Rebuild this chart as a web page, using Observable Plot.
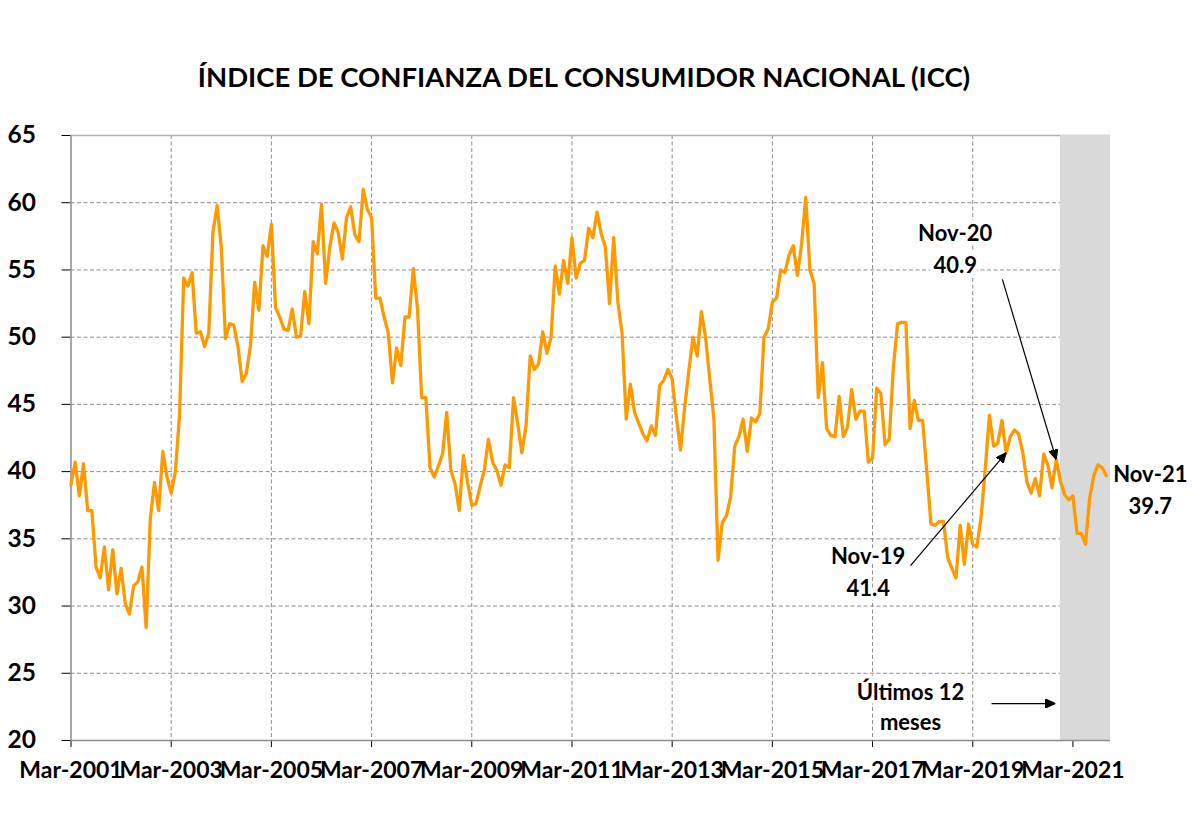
<!DOCTYPE html>
<html lang="es">
<head>
<meta charset="utf-8">
<script src="https://cdn.jsdelivr.net/npm/d3@7"></script>
<script src="https://cdn.jsdelivr.net/npm/@observablehq/plot@0.6"></script>
<style>
  html, body { margin: 0; padding: 0; background: #fff; }
  #chart { width: 1200px; height: 817px; position: relative; overflow: hidden; }
  #chart h1 {
    margin: 0; height: 120px; box-sizing: border-box; padding: 62px 32px 0 0;
    text-align: center; color: #000;
    font: 700 27.5px/30px Lato, "Open Sans", sans-serif;
  }
  #chart svg { display: block; }
  #chart svg g[aria-label^="y-axis"] text { font-size: 24.5px; font-weight: 700; }
  #chart svg g[aria-label^="x-axis"] text { font-size: 23px; font-weight: 700; }
  #chart svg g[aria-label^="x-axis"] line,
  #chart svg g[aria-label^="y-axis"] line { stroke: #8c8c8c; }
</style>
</head>
<body>
<div id="chart"><h1>ÍNDICE DE CONFIANZA DEL CONSUMIDOR NACIONAL (ICC)</h1></div>
<script>
// Índice de Confianza del Consumidor, monthly values from March 2001 to November 2021
const firstMonth = "Mar-2001";
const icc2001 = [39.0, 40.7, 38.2, 40.6, 37.1, 37.1, 32.9, 32.1, 34.4, 31.2]; // Mar–Dec
const icc2002 = [34.2, 30.9, 32.8, 30.2, 29.4, 31.5, 31.8, 32.9, 28.4, 36.5, 39.2, 37.1];
const icc2003 = [41.5, 39.6, 38.4, 40.0, 44.2, 54.4, 53.8, 54.8, 50.3, 50.4, 49.3, 50.3];
const icc2004 = [57.8, 59.8, 56.7, 49.9, 51.0, 50.9, 49.3, 46.7, 47.3, 49.4, 54.1, 52.0];
const icc2005 = [56.8, 56.0, 58.4, 52.2, 51.5, 50.6, 50.5, 52.1, 50.0, 50.1, 53.4, 51.0];
const icc2006 = [57.1, 56.2, 59.9, 54.0, 56.7, 58.5, 57.8, 55.8, 58.9, 59.7, 57.6, 57.1];
const icc2007 = [61.0, 59.5, 58.9, 52.9, 52.9, 51.5, 50.3, 46.6, 49.2, 47.9, 51.5, 51.5];
const icc2008 = [55.1, 52.1, 45.5, 45.5, 40.3, 39.6, 40.4, 41.3, 44.4, 40.1, 39.1, 37.1];
const icc2009 = [41.2, 39.2, 37.5, 37.6, 38.9, 40.1, 42.4, 40.7, 40.1, 39.0, 40.5, 40.3];
const icc2010 = [45.5, 43.6, 41.4, 43.4, 48.6, 47.6, 48.0, 50.4, 48.8, 50.0, 55.3, 53.2];
const icc2011 = [55.7, 54.0, 57.4, 54.4, 55.5, 55.7, 58.1, 57.4, 59.3, 57.7, 56.7, 52.5];
const icc2012 = [57.4, 52.6, 50.3, 43.9, 46.5, 44.4, 43.6, 42.8, 42.3, 43.4, 42.7, 46.4];
const icc2013 = [46.8, 47.6, 46.9, 44.1, 41.6, 44.8, 47.5, 50.0, 48.6, 51.9, 50.0, 46.9];
const icc2014 = [43.9, 33.4, 36.2, 36.7, 38.1, 41.9, 42.6, 43.9, 41.5, 44.0, 43.7, 44.3];
const icc2015 = [50.0, 50.6, 52.6, 52.9, 55.0, 54.8, 56.1, 56.8, 54.6, 56.9, 60.4, 55.0];
const icc2016 = [54.0, 45.5, 48.1, 43.2, 42.7, 42.6, 45.6, 42.6, 43.3, 46.1, 43.9, 44.5];
const icc2017 = [44.5, 40.7, 41.0, 46.2, 45.8, 42.0, 42.4, 47.8, 51.0, 51.1, 51.1, 43.2];
const icc2018 = [45.3, 43.8, 43.8, 40.0, 36.1, 36.0, 36.3, 36.3, 33.6, 32.8, 32.1, 36.0];
const icc2019 = [33.1, 36.1, 34.6, 34.4, 36.6, 40.2, 44.2, 41.9, 42.1, 43.8, 41.4, 42.6];
const icc2020 = [43.1, 42.8, 41.4, 39.2, 38.4, 39.5, 38.2, 41.3, 40.5, 38.8, 40.9, 39.3];
const icc2021 = [38.3, 37.9, 38.2, 35.4, 35.4, 34.6, 38.0, 39.7, 40.5, 40.3, 39.7]; // Jan–Nov

const xTickLabels = ["Mar-2001", "Mar-2003", "Mar-2005", "Mar-2007", "Mar-2009", "Mar-2011",
                     "Mar-2013", "Mar-2015", "Mar-2017", "Mar-2019", "Mar-2021"];
const yTicks = [20, 25, 30, 35, 40, 45, 50, 55, 60, 65];
const highlighted = ["Nov-19", "Nov-20", "Nov-21"];
const lastMonthsLabel = "Últimos 12\nmeses";

const icc = [...icc2001, ...icc2002, ...icc2003, ...icc2004, ...icc2005, ...icc2006, ...icc2007,
             ...icc2008, ...icc2009, ...icc2010, ...icc2011, ...icc2012, ...icc2013, ...icc2014,
             ...icc2015, ...icc2016, ...icc2017, ...icc2018, ...icc2019, ...icc2020, ...icc2021];

const parseMonth = d3.timeParse("%b-%Y");
const shortMonth = d3.timeFormat("%b-%y");
const start = parseMonth(firstMonth);
const n = icc.length;

// one row per month, x is the month offset from the first observation
const series = icc.map((value, i) => ({i, value, month: shortMonth(d3.timeMonth.offset(start, i))}));
const xTicks = xTickLabels.map(s => d3.timeMonth.count(start, parseMonth(s)));
const tickLabelOf = new Map(xTicks.map((t, k) => [t, xTickLabels[k]]));

// shaded window covering the final twelve months
const lastYear = [{from: n - 12, to: n}];

// labelled months and where their call‑outs sit relative to the point
const callouts = series.filter(d => highlighted.includes(d.month))
  .map(d => ({...d, text: `${d.month}\n${d.value.toFixed(1)}`}));
const calloutOffset = {"Nov-19": [-138, 117], "Nov-20": [-101, -213], "Nov-21": [44, 12]};
const arrowTail = {"Nov-19": [201.1, 33.0], "Nov-20": [223.1, 54.3]};
const pointerArrows = callouts.filter(d => arrowTail[d.month])
  .map(d => ({x1: arrowTail[d.month][0], y1: arrowTail[d.month][1], x2: d.i, y2: d.value}));
const windowArrow = [{x1: 220.5, y1: 22.75, x2: lastYear[0].from - 1.2, y2: 22.75}];

// filled triangular arrowhead
function filledHead(color) {
  const m = d3.create("svg:marker")
    .attr("viewBox", "0 -4.5 10 9")
    .attr("markerUnits", "userSpaceOnUse")
    .attr("markerWidth", 10)
    .attr("markerHeight", 9)
    .attr("refX", 10)
    .attr("refY", 0)
    .attr("orient", "auto");
  m.append("path").attr("d", "M0,-4.5L10,0L0,4.5Z").attr("fill", color);
  return m.node();
}

const grey = "#8c8c8c";
const font = "Lato, 'Open Sans', sans-serif";

const chart = Plot.plot({
  width: 1200,
  height: 697,
  marginLeft: 70.5,
  marginRight: 90,
  marginTop: 15,
  marginBottom: 77,
  style: {fontFamily: font, fontWeight: 700, color: "#000", background: "#fff", overflow: "visible"},
  x: {domain: [0, n], ticks: xTicks, tickFormat: t => tickLabelOf.get(t), tickSize: 7, tickPadding: 14, label: null},
  y: {domain: [20, 65], ticks: yTicks, tickSize: 9, tickPadding: 26, label: null},
  marks: [
    Plot.ruleY(yTicks.filter(v => v > 20 && v < 65), {stroke: grey, strokeWidth: 1, strokeDasharray: "4,2.5"}),
    Plot.ruleX(xTicks.filter(t => t > 0), {stroke: grey, strokeWidth: 1, strokeDasharray: "4,2.5"}),
    Plot.ruleY([65], {stroke: "#b0b0b0", strokeWidth: 1.5}),
    Plot.rect(lastYear, {x1: d => d.from, x2: d => d.to, y1: () => 20, y2: () => 65, fill: "#d9d9d9"}),
    Plot.ruleY([20], {stroke: grey, strokeWidth: 1.5}),
    Plot.ruleX([0], {stroke: grey, strokeWidth: 1.5}),
    Plot.line(series, {x: "i", y: "value", stroke: "#ff9900", strokeWidth: 3.3, strokeLinejoin: "round"}),
    Plot.link(pointerArrows, {x1: "x1", y1: "y1", x2: "x2", y2: "y2", stroke: "#000", strokeWidth: 1.2, markerEnd: filledHead}),
    Plot.link(windowArrow, {x1: "x1", y1: "y1", x2: "x2", y2: "y2", stroke: "#000", strokeWidth: 1.2, markerEnd: filledHead}),
    ...callouts.map(d => Plot.text([d], {
      x: "i", y: "value", text: "text",
      dx: calloutOffset[d.month][0], dy: calloutOffset[d.month][1],
      fontSize: 22, fontWeight: 700, fontFamily: font, lineHeight: 1.45, lineAnchor: "middle",
      textAnchor: "middle", fill: "#000", stroke: "#fff", strokeWidth: 8, paintOrder: "stroke"
    })),
    Plot.text(windowArrow, {
      x: "x1", y: "y1", text: () => lastMonthsLabel, dx: -81, dy: 2,
      fontSize: 22, fontWeight: 700, fontFamily: font, lineHeight: 1.36, lineAnchor: "middle",
      textAnchor: "middle", fill: "#000", stroke: "#fff", strokeWidth: 8, paintOrder: "stroke"
    })
  ]
});

document.getElementById("chart").appendChild(chart);
</script>
</body>
</html>
